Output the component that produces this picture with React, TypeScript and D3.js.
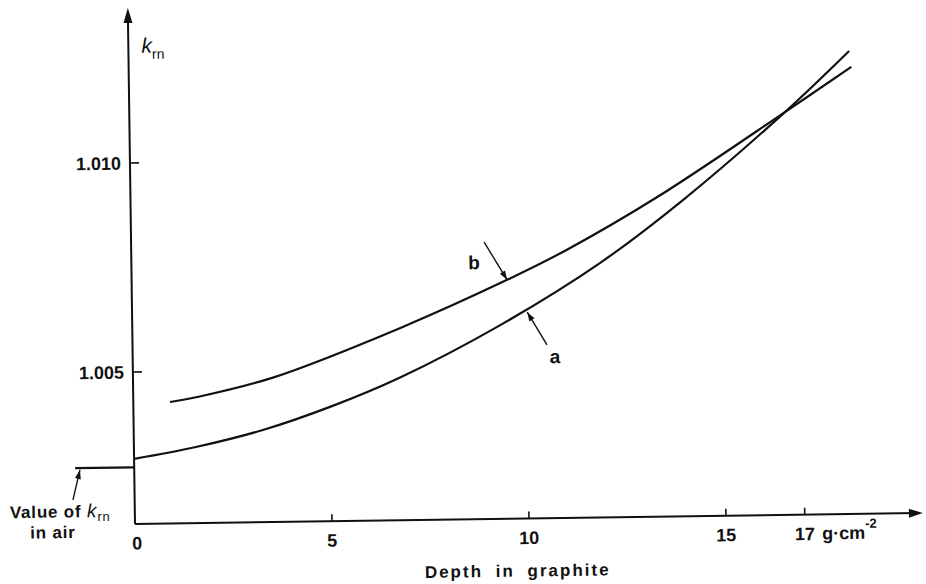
import React from "react";
import * as d3 from "d3";

// Curve a
const depthA = [0, 1.6, 3.28, 4.99, 6.78, 9.34, 11.89, 14.02, 16.64, 18.29];
const kA = [1.00292, 1.00319, 1.00357, 1.0041, 1.00478, 1.006, 1.00745, 1.00893, 1.011, 1.01244];
// Curve b
const depthB = [0.93, 1.62, 3.55, 6.79, 9.53, 11.06, 13.37, 16.64, 18.34];
const kB = [1.00427, 1.00438, 1.00482, 1.00596, 1.00708, 1.00778, 1.00901, 1.011, 1.01206];
// value in air
const airDepth = [-1.5, 0];
const airK = [1.00272, 1.00272];

const xTicks = [0, 5, 10, 15, 17];
const yTicks = [1.005, 1.01];
const yTickLabels = ["1.005", "1.010"];

const W = 926;
const H = 584;
const ORIGIN = [135, 524];
const ROT = -0.8;

export default function App() {
  const x = d3.scaleLinear().domain([0, 20]).range([0, 788]);
  const y = d3.scaleLinear().domain([1.005, 1.01]).range([-152, -361]);
  const line = d3
    .line<[number, number]>()
    .x((d) => x(d[0]))
    .y((d) => y(d[1]))
    .curve(d3.curveCatmullRom.alpha(0.5));
  const ptsA: [number, number][] = depthA.map((d, i) => [d, kA[i]]);
  const ptsB: [number, number][] = depthB.map((d, i) => [d, kB[i]]);
  const ptsAir: [number, number][] = airDepth.map((d, i) => [d, airK[i]]);
  const ink = "#111";
  const font = "'Liberation Sans', Arial, sans-serif";

  // annotation arrows in data space: [tailX, tailK, tipX, tipK]
  const arrowB = [8.96, 1.00799, 9.53, 1.00708];
  const arrowA = [10.52, 1.00551, 10.03, 1.0063];

  const arrowHead = (x1: number, y1: number, x2: number, y2: number, len = 9, wid = 3) => {
    const a = Math.atan2(y2 - y1, x2 - x1);
    const bx = x2 - len * Math.cos(a);
    const by = y2 - len * Math.sin(a);
    const px = -Math.sin(a) * wid;
    const py = Math.cos(a) * wid;
    return `M${x2},${y2}L${bx + px},${by + py}L${bx - px},${by - py}Z`;
  };

  const ax = (a: number[]) => [x(a[0]), y(a[1]), x(a[2]), y(a[3])];
  const bArr = ax(arrowB);
  const aArr = ax(arrowA);
  const xEnd = x(20);
  const yTop = -516;

  return (
    <div style={{ position: "absolute", left: 0, top: 0 }}>
      <svg width={W} height={H} style={{ display: "block", background: "#fff" }}>
        <g transform={`translate(${ORIGIN[0]},${ORIGIN[1]}) rotate(${ROT})`} fontFamily={font} fill={ink}>
          {/* axes */}
          <line x1={0} y1={0} x2={xEnd - 6} y2={0} stroke={ink} strokeWidth={2} />
          <path d={arrowHead(0, 0, xEnd, 0, 14, 4.5)} fill={ink} />
          <line x1={0} y1={0} x2={0} y2={yTop + 6} stroke={ink} strokeWidth={2} />
          <path d={arrowHead(0, 0, 0, yTop, 15, 4.5)} fill={ink} />

          {/* x ticks */}
          {xTicks.map((t) => (
            <g key={t}>
              {t !== 0 && <line x1={x(t)} x2={x(t)} y1={0} y2={-7} stroke={ink} strokeWidth={1.6} />}
              <text x={x(t) + (t === 0 ? 2 : 0)} y={25.5} textAnchor="middle" fontSize={18} fontWeight="bold">
                {t}
              </text>
            </g>
          ))}
          <text x={687} y={25} fontSize={18} fontWeight="bold">
            g·cm
            <tspan dy={-11} fontSize={13}>-2</tspan>
          </text>
          <text x={382} y={58} textAnchor="middle" fontSize={17} fontWeight="bold" letterSpacing={2} wordSpacing={6}>
            Depth in graphite
          </text>

          {/* y ticks */}
          {yTicks.map((t, i) => (
            <g key={t}>
              <line x1={0} x2={9} y1={y(t)} y2={y(t)} stroke={ink} strokeWidth={1.6} />
              <text x={-9} y={y(t) + 6.5} textAnchor="end" fontSize={18} fontWeight="bold">
                {yTickLabels[i]}
              </text>
            </g>
          ))}
          <text x={13} y={-471} fontSize={21} fontStyle="italic">
            k
            <tspan fontSize={14} dy={6} fontStyle="normal">rn</tspan>
          </text>

          {/* curves */}
          <path d={line(ptsA) || ""} fill="none" stroke={ink} strokeWidth={2.2} />
          <path d={line(ptsB) || ""} fill="none" stroke={ink} strokeWidth={2.2} />
          <path d={d3.line<[number, number]>().x((d) => x(d[0])).y((d) => y(d[1]))(ptsAir) || ""} fill="none" stroke={ink} strokeWidth={2.2} />

          {/* annotations */}
          <line x1={bArr[0]} y1={bArr[1]} x2={bArr[2]} y2={bArr[3]} stroke={ink} strokeWidth={1.4} />
          <path d={arrowHead(bArr[0], bArr[1], bArr[2], bArr[3])} fill={ink} />
          <text x={342.6} y={-250} textAnchor="middle" fontSize={19} fontWeight="bold">b</text>

          <line x1={aArr[0]} y1={aArr[1]} x2={aArr[2]} y2={aArr[3]} stroke={ink} strokeWidth={1.4} />
          <path d={arrowHead(aArr[0], aArr[1], aArr[2], aArr[3])} fill={ink} />
          <text x={422.3} y={-155} textAnchor="middle" fontSize={19} fontWeight="bold">a</text>

          <line x1={-61.7} y1={-24.9} x2={-54.3} y2={-54.8} stroke={ink} strokeWidth={1.4} />
          <path d={arrowHead(-61.7, -24.9, -54.3, -54.8)} fill={ink} />
          <text x={-125} y={-7.5} fontSize={17} fontWeight="bold" letterSpacing={0.8}>
            Value of{" "}
            <tspan fontStyle="italic" fontWeight="normal" fontSize={19}>k</tspan>
            <tspan fontSize={13} dy={4} fontWeight="normal">rn</tspan>
          </text>
          <text x={-105} y={13} fontSize={17} fontWeight="bold" letterSpacing={0.8}>
            in air
          </text>
        </g>
      </svg>
    </div>
  );
}
